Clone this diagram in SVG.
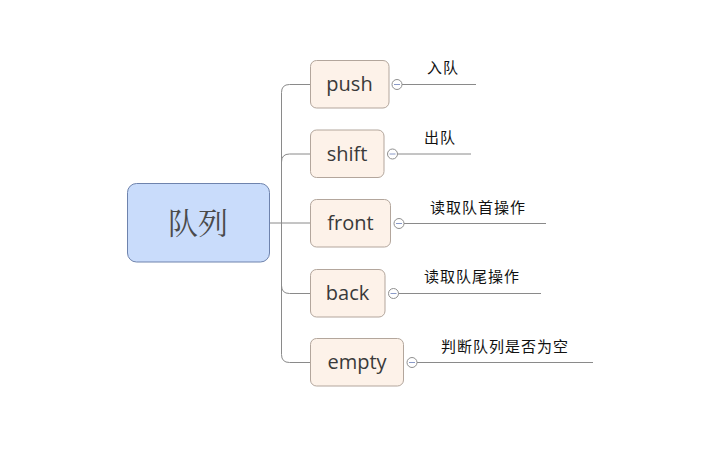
<svg xmlns="http://www.w3.org/2000/svg" width="725" height="468" viewBox="0 0 725 468">
<style>
.node rect{fill:#fdf2e9;stroke:#b3a69c;stroke-width:1}
.node text.name{font-family:"Open Sans","Noto Sans",sans-serif;font-size:20px;fill:#3a3a3a;text-anchor:middle}
.root rect{fill:#c9dcfb;stroke:#6e83ad;stroke-width:1}
.root text{font-family:"Noto Serif CJK SC","Noto Sans CJK SC",serif;font-size:30px;fill:#4a4a4a;text-anchor:middle}
.conn path,.conn line{fill:none;stroke:#8a8a8a;stroke-width:1}
.toggle{fill:#ffffff;stroke:#8f8f8f;stroke-width:1}
.dash{stroke:#8a9ac8;stroke-width:1}
.node text.lbl{font-family:"Noto Sans CJK SC","Noto Sans",sans-serif;font-size:15px;fill:#111;letter-spacing:1px;text-anchor:start}
</style>
<rect width="725" height="468" fill="#ffffff"/>
<g id="connectors" class="conn">
<line x1="270" y1="223" x2="310" y2="223"/>
<path d="M310 84.5 H289.5 Q281.5 84.5 281.5 92.5 V354.5 Q281.5 362.5 289.5 362.5 H310"/>
<path d="M310 154 H289.5 Q281.5 154 281.5 162"/>
<path d="M310 293.5 H289.5 Q281.5 293.5 281.5 285.5"/>
<line x1="402" y1="84.5" x2="476" y2="84.5"/>
<line x1="397" y1="154" x2="471" y2="154"/>
<line x1="404" y1="223.5" x2="546" y2="223.5"/>
<line x1="398" y1="293.5" x2="541" y2="293.5"/>
<line x1="417" y1="362.5" x2="593" y2="362.5"/>
</g>
<g id="root" class="root">
<rect x="127.5" y="183.5" width="142" height="78.5" rx="9"/>
<text x="198" y="234">队列</text>
</g>
<g id="node-push" class="node">
<rect x="310.5" y="60.5" width="78.5" height="47.5" rx="6"/>
<text class="name" x="349.5" y="91">push</text>
<circle class="toggle" cx="397" cy="84.5" r="5"/>
<line class="dash" x1="394" y1="84.5" x2="400" y2="84.5"/>
<text class="lbl" x="427" y="73">入队</text>
</g>
<g id="node-shift" class="node">
<rect x="310.5" y="130" width="73.5" height="47.5" rx="6"/>
<text class="name" x="347" y="160.5">shift</text>
<circle class="toggle" cx="392.5" cy="154" r="5"/>
<line class="dash" x1="389.5" y1="154" x2="395.5" y2="154"/>
<text class="lbl" x="424" y="143">出队</text>
</g>
<g id="node-front" class="node">
<rect x="310.5" y="199.5" width="80" height="47.5" rx="6"/>
<text class="name" x="350.5" y="230">front</text>
<circle class="toggle" cx="399" cy="223.5" r="5"/>
<line class="dash" x1="396" y1="223.5" x2="402" y2="223.5"/>
<text class="lbl" x="430" y="213">读取队首操作</text>
</g>
<g id="node-back" class="node">
<rect x="310.5" y="269.5" width="74.5" height="47.5" rx="6"/>
<text class="name" x="347.5" y="300">back</text>
<circle class="toggle" cx="393.5" cy="293.5" r="5"/>
<line class="dash" x1="390.5" y1="293.5" x2="396.5" y2="293.5"/>
<text class="lbl" x="424" y="282">读取队尾操作</text>
</g>
<g id="node-empty" class="node">
<rect x="310.5" y="338.5" width="93" height="47.5" rx="6"/>
<text class="name" x="357" y="369">empty</text>
<circle class="toggle" cx="412" cy="362.5" r="5"/>
<line class="dash" x1="409" y1="362.5" x2="415" y2="362.5"/>
<text class="lbl" x="441" y="352">判断队列是否为空</text>
</g>
</svg>
